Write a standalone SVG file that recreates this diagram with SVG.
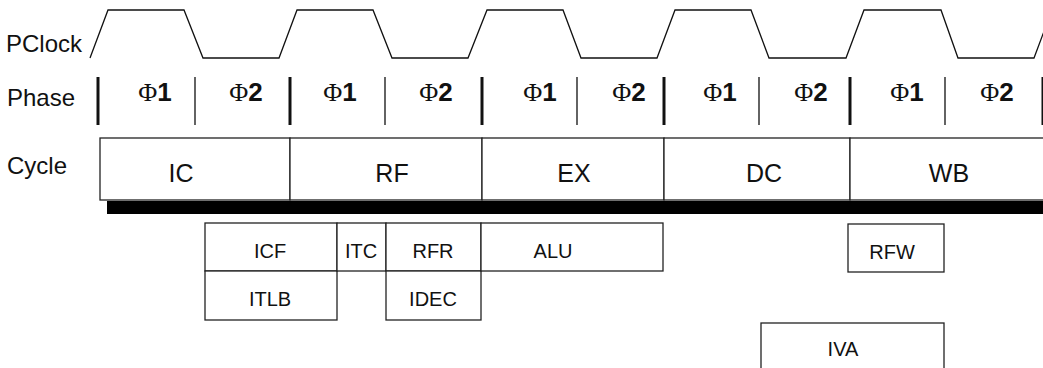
<svg xmlns="http://www.w3.org/2000/svg" width="1043" height="368" viewBox="0 0 1043 368">
<style>
.lbl{font-family:"Liberation Sans",Arial,sans-serif;font-size:24px;fill:#111}
.cyc{font-family:"Liberation Sans",Arial,sans-serif;font-size:25px;fill:#111;text-anchor:middle}
.sm{font-family:"Liberation Sans",Arial,sans-serif;font-size:20px;fill:#111;text-anchor:middle}
.ph{font-size:26px;fill:#111;text-anchor:middle}
.phi{font-family:"Liberation Serif","Times New Roman",serif}
.dig{font-family:"Liberation Sans",Arial,sans-serif;font-weight:bold}
.box{fill:#fff;stroke:#222;stroke-width:1.3}
.thick{stroke:#111;stroke-width:3}
.thin{stroke:#222;stroke-width:1.4}
</style>
<rect width="1043" height="368" fill="#fff"/>
<g id="labels">
<text class="lbl" x="6" y="52">PClock</text>
<text class="lbl" x="7" y="106">Phase</text>
<text class="lbl" x="7" y="174">Cycle</text>
</g>
<g id="clock">
<polyline fill="none" stroke="#111" stroke-width="1.3" points="90,58 108,10 184,10 203,58 279,58 297,10 373,10 392,58 468,58 487,10 563,10 581,58 657,58 675,10 751,10 769,58 846,58 864,10 941,10 958,58 1034,58 1052,10"/>
</g>
<g id="phase-bars">
<line class="thick" x1="98" y1="77" x2="98" y2="125"/>
<line class="thin" x1="195" y1="77" x2="195" y2="125"/>
<line class="thick" x1="290" y1="77" x2="290" y2="125"/>
<line class="thin" x1="385" y1="77" x2="385" y2="125"/>
<line class="thick" x1="482" y1="77" x2="482" y2="125"/>
<line class="thin" x1="577" y1="77" x2="577" y2="125"/>
<line class="thick" x1="664" y1="77" x2="664" y2="125"/>
<line class="thin" x1="759" y1="77" x2="759" y2="125"/>
<line class="thick" x1="850" y1="77" x2="850" y2="125"/>
<line class="thin" x1="945" y1="77" x2="945" y2="125"/>
<line class="thick" x1="1043" y1="77" x2="1043" y2="125"/>
</g>
<g id="phases">
<text class="ph" x="155" y="101"><tspan class="phi">Φ</tspan><tspan class="dig">1</tspan></text>
<text class="ph" x="246" y="101"><tspan class="phi">Φ</tspan><tspan class="dig">2</tspan></text>
<text class="ph" x="340" y="101"><tspan class="phi">Φ</tspan><tspan class="dig">1</tspan></text>
<text class="ph" x="436" y="101"><tspan class="phi">Φ</tspan><tspan class="dig">2</tspan></text>
<text class="ph" x="540" y="101"><tspan class="phi">Φ</tspan><tspan class="dig">1</tspan></text>
<text class="ph" x="629" y="101"><tspan class="phi">Φ</tspan><tspan class="dig">2</tspan></text>
<text class="ph" x="720" y="101"><tspan class="phi">Φ</tspan><tspan class="dig">1</tspan></text>
<text class="ph" x="811" y="101"><tspan class="phi">Φ</tspan><tspan class="dig">2</tspan></text>
<text class="ph" x="907" y="101"><tspan class="phi">Φ</tspan><tspan class="dig">1</tspan></text>
<text class="ph" x="997" y="101"><tspan class="phi">Φ</tspan><tspan class="dig">2</tspan></text>
</g>
<g id="cycle-bar">
<rect x="107" y="201" width="945" height="13" fill="#000"/>
</g>
<g id="IC"><rect class="box" x="100" y="138" width="190" height="62"/><text class="cyc" x="181" y="182">IC</text></g>
<g id="RF"><rect class="box" x="290" y="138" width="192" height="62"/><text class="cyc" x="392" y="182">RF</text></g>
<g id="EX"><rect class="box" x="482" y="138" width="182" height="62"/><text class="cyc" x="574" y="182">EX</text></g>
<g id="DC"><rect class="box" x="664" y="138" width="186" height="62"/><text class="cyc" x="764" y="182">DC</text></g>
<g id="WB"><rect class="box" x="850" y="138" width="200" height="62"/><text class="cyc" x="949" y="182">WB</text></g>
<g id="ICF"><rect class="box" x="205" y="223" width="132" height="48"/><text class="sm" x="270" y="258">ICF</text></g>
<g id="ITLB"><rect class="box" x="205" y="271" width="132" height="49"/><text class="sm" x="270" y="306">ITLB</text></g>
<g id="ITC"><rect class="box" x="337" y="223" width="49" height="48"/><text class="sm" x="361" y="258">ITC</text></g>
<g id="RFR"><rect class="box" x="386" y="223" width="95" height="48"/><text class="sm" x="433" y="258">RFR</text></g>
<g id="IDEC"><rect class="box" x="386" y="271" width="95" height="49"/><text class="sm" x="433" y="306">IDEC</text></g>
<g id="ALU"><rect class="box" x="481" y="223" width="182" height="48"/><text class="sm" x="553" y="258">ALU</text></g>
<g id="RFW"><rect class="box" x="848" y="224" width="96" height="48"/><text class="sm" x="892" y="259">RFW</text></g>
<g id="IVA"><rect class="box" x="761" y="323" width="183" height="60"/><text class="sm" x="843" y="356">IVA</text></g>
<g id="connectors"/>
</svg>
